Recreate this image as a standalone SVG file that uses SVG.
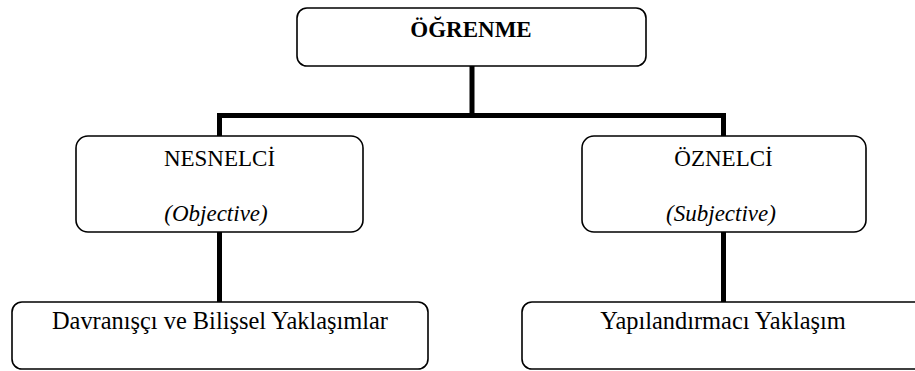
<svg xmlns="http://www.w3.org/2000/svg" width="915" height="371" viewBox="0 0 915 371">
<style>
.box{fill:#fff;stroke:#000;stroke-width:1.6}
.conn{fill:none;stroke:#000;stroke-width:5;stroke-linecap:butt;stroke-linejoin:miter}
text{font-family:"Liberation Serif","Times New Roman",serif;font-size:23px;fill:#000;text-anchor:middle}
.b{font-weight:bold}
.i{font-style:italic}
.l{font-size:24.4px}
</style>
<rect width="915" height="371" fill="#fff"/>
<g id="connectors">
<path class="conn" d="M472 66 V115.5 M219.5 115.5 H723.5 M219.5 113 V136 M723.5 113 V136"/>
<path class="conn" d="M219.5 232 V302 M723.5 232 V302"/>
</g>
<g id="ogrenme">
<rect class="box" x="297" y="8" width="349" height="58" rx="10"/>
<text class="b" x="471" y="37">ÖĞRENME</text>
</g>
<g id="nesnelci">
<rect class="box" x="76" y="136" width="287" height="96" rx="12"/>
<text x="219.5" y="166">NESNELCİ</text>
<text class="i" x="216" y="221">(Objective)</text>
</g>
<g id="oznelci">
<rect class="box" x="582" y="136" width="284" height="96" rx="12"/>
<text x="723.5" y="166">ÖZNELCİ</text>
<text class="i" x="721" y="221">(Subjective)</text>
</g>
<g id="davranisci">
<rect class="box" x="12" y="302" width="416" height="67" rx="10"/>
<text class="l" x="220" y="329">Davranışçı ve Bilişsel Yaklaşımlar</text>
</g>
<g id="yapilandirmaci">
<rect class="box" x="522" y="302" width="413" height="67" rx="10"/>
<text class="l" x="723" y="329">Yapılandırmacı Yaklaşım</text>
</g>
</svg>
